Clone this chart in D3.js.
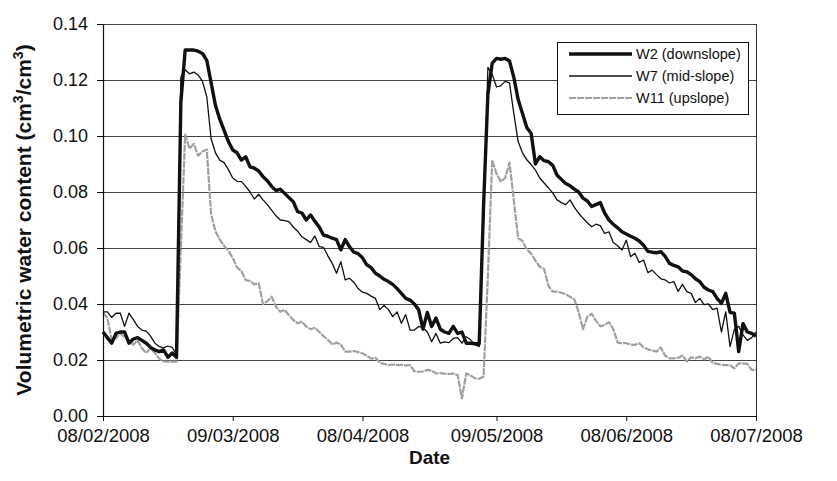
<!DOCTYPE html>
<html>
<head>
<meta charset="utf-8">
<script src="https://cdn.jsdelivr.net/npm/d3@7"></script>
<style>
  html, body { margin: 0; padding: 0; background: #fff; }
  svg { display: block; font-family: "Liberation Sans", Arial, Helvetica, sans-serif; }
</style>
</head>
<body>
<div id="chart"></div>
<script>
// daily readings, first day 08/02/2008
const startDate = '08/02/2008';

const w2 = [
  0.030, 0.028, 0.026, 0.0295, 0.030, 0.030, 0.026, 0.0275, 0.028, 0.027,
  0.026, 0.0245, 0.0236, 0.023, 0.0236, 0.021, 0.0225, 0.021, 0.112, 0.1307,
  0.1307, 0.1307, 0.1303, 0.1295, 0.127, 0.119, 0.111, 0.106, 0.102, 0.098,
  0.095, 0.094, 0.0914, 0.0926, 0.089, 0.0885, 0.0875, 0.0855, 0.084, 0.082,
  0.0805, 0.081, 0.0795, 0.078, 0.0765, 0.073, 0.0725, 0.070, 0.0718, 0.0695,
  0.0675, 0.0646, 0.0642, 0.0635, 0.063, 0.0593, 0.063, 0.0605, 0.0585, 0.058,
  0.0565, 0.054, 0.053, 0.051, 0.050, 0.0488, 0.048, 0.047, 0.0455, 0.0438,
  0.042, 0.0414, 0.040, 0.0379, 0.031, 0.037, 0.032, 0.035, 0.031, 0.030,
  0.0295, 0.032, 0.0295, 0.030, 0.026, 0.026, 0.0258, 0.0258, 0.075, 0.115,
  0.126, 0.1277, 0.1274, 0.1277, 0.1268, 0.121, 0.113, 0.108, 0.103, 0.101,
  0.090, 0.0926, 0.0912, 0.0908, 0.0895, 0.086, 0.0845, 0.083, 0.0822, 0.081,
  0.080, 0.0778, 0.0768, 0.0748, 0.0755, 0.0762, 0.0725, 0.070, 0.0685, 0.0672,
  0.0658, 0.065, 0.0642, 0.0635, 0.0625, 0.061, 0.0588, 0.0585, 0.0583, 0.0587,
  0.057, 0.0545, 0.0538, 0.0533, 0.0518, 0.0515, 0.0505, 0.049, 0.048, 0.046,
  0.045, 0.0444, 0.042, 0.0402, 0.0438, 0.037, 0.0367, 0.023, 0.033, 0.030,
  0.0295, 0.0285
];

const w7 = [
  0.0372, 0.0372, 0.0352, 0.0367, 0.0367, 0.032, 0.0367, 0.0345, 0.032, 0.0307,
  0.0303, 0.0285, 0.026, 0.0248, 0.0243, 0.025, 0.0245, 0.022, 0.121, 0.1236,
  0.1222, 0.1228, 0.1218, 0.1195, 0.114, 0.099, 0.094, 0.0914, 0.0905, 0.088,
  0.085, 0.0838, 0.0837, 0.082, 0.080, 0.0775, 0.0792, 0.0772, 0.0755, 0.0735,
  0.0715, 0.070, 0.0698, 0.0694, 0.0675, 0.066, 0.064, 0.063, 0.062, 0.0643,
  0.0605, 0.0602, 0.0572, 0.0545, 0.051, 0.0551, 0.0486, 0.0492, 0.0478, 0.0455,
  0.0442, 0.0438, 0.0428, 0.042, 0.038, 0.0395, 0.038, 0.0355, 0.0372, 0.0331,
  0.0362, 0.0307, 0.0307, 0.032, 0.0315, 0.030, 0.0265, 0.0295, 0.026, 0.0265,
  0.0262, 0.0277, 0.028, 0.026, 0.0283, 0.0272, 0.0255, 0.0248, 0.070, 0.1245,
  0.122, 0.1175, 0.118, 0.1195, 0.119, 0.108, 0.098, 0.094, 0.0915, 0.0898,
  0.0878, 0.085, 0.0832, 0.0815, 0.0797, 0.0772, 0.0762, 0.0755, 0.0772, 0.0745,
  0.0724, 0.0706, 0.069, 0.0676, 0.0685, 0.068, 0.0652, 0.0658, 0.062, 0.0608,
  0.0593, 0.0628, 0.0569, 0.0581, 0.0548, 0.0557, 0.0512, 0.0521, 0.0505, 0.049,
  0.0486, 0.0475, 0.048, 0.0445, 0.047, 0.0444, 0.0438, 0.0405, 0.042, 0.0398,
  0.040, 0.038, 0.0385, 0.030, 0.0372, 0.0248, 0.031, 0.032, 0.029, 0.027,
  0.028, 0.030
];

const w11 = [
  0.037, 0.035, 0.027, 0.0278, 0.0295, 0.028, 0.027, 0.0255, 0.027, 0.0242,
  0.0225, 0.0242, 0.0225, 0.0205, 0.0195, 0.0194, 0.0194, 0.0194, 0.060, 0.1005,
  0.0955, 0.0972, 0.093, 0.0945, 0.0952, 0.072, 0.066, 0.063, 0.0608, 0.059,
  0.0565, 0.053, 0.0518, 0.0485, 0.0482, 0.047, 0.0474, 0.040, 0.041, 0.0426,
  0.039, 0.0372, 0.0379, 0.036, 0.0343, 0.0331, 0.0337, 0.032, 0.031, 0.0315,
  0.030, 0.0285, 0.0272, 0.0256, 0.0262, 0.0255, 0.023, 0.023, 0.0232, 0.0228,
  0.0224, 0.0215, 0.0205, 0.0208, 0.019, 0.0186, 0.0182, 0.0184, 0.0182, 0.0183,
  0.0181, 0.0182, 0.016, 0.0158, 0.0159, 0.0165, 0.0162, 0.0152, 0.0153, 0.0151,
  0.015, 0.0152, 0.0146, 0.0063, 0.0152, 0.0145, 0.0135, 0.0133, 0.014, 0.050,
  0.0914, 0.0865, 0.0837, 0.085, 0.0905, 0.077, 0.0635, 0.0625, 0.0595, 0.058,
  0.0555, 0.0533, 0.0525, 0.0465, 0.0444, 0.0444, 0.044, 0.0435, 0.0426, 0.0416,
  0.037, 0.031, 0.0355, 0.0365, 0.034, 0.032, 0.0325, 0.0335, 0.031, 0.0262,
  0.026, 0.026, 0.0255, 0.0254, 0.026, 0.0245, 0.0238, 0.0234, 0.023, 0.0245,
  0.0215, 0.0206, 0.0206, 0.0208, 0.0216, 0.0195, 0.021, 0.0206, 0.0212, 0.0202,
  0.0212, 0.019, 0.0186, 0.0183, 0.0182, 0.0182, 0.017, 0.0188, 0.0188, 0.0186,
  0.0165, 0.0165
];

const xTickLabels = ['08/02/2008', '09/03/2008', '08/04/2008', '09/05/2008', '08/06/2008', '08/07/2008'];
const yTicks = [0, 0.02, 0.04, 0.06, 0.08, 0.10, 0.12, 0.14];
const seriesNames = ['W2 (downslope)', 'W7 (mid-slope)', 'W11 (upslope)'];

const width = 837, height = 481;
const margin = {top: 24, right: 81, bottom: 65, left: 103};

const parse = d3.utcParse('%d/%m/%Y');
const fmt = d3.utcFormat('%d/%m/%Y');
const t0 = parse(startDate);
const tickDates = xTickLabels.map(parse);

const x = d3.scaleUtc()
  .domain([tickDates[0], tickDates[tickDates.length - 1]])
  .range([margin.left, width - margin.right]);
const y = d3.scaleLinear()
  .domain([0, 0.14])
  .range([height - margin.bottom, margin.top]);

const svg = d3.select('#chart').append('svg')
  .attr('width', width)
  .attr('height', height);

// gridlines
svg.append('g')
  .selectAll('line')
  .data(yTicks.filter(d => d > 0))
  .join('line')
    .attr('x1', x.range()[0])
    .attr('x2', x.range()[1])
    .attr('y1', d => Math.round(y(d)) + 0.5)
    .attr('y2', d => Math.round(y(d)) + 0.5)
    .attr('stroke', '#444')
    .attr('stroke-width', 1);

// plot frame (right side)
svg.append('line')
  .attr('x1', x.range()[1] + 0.5).attr('x2', x.range()[1] + 0.5)
  .attr('y1', y(0.14)).attr('y2', y(0))
  .attr('stroke', '#333');

const series = [
  {name: seriesNames[2], values: w11, color: '#a0a0a0', width: 2.2, dash: '7,1'},
  {name: seriesNames[1], values: w7, color: '#111', width: 1.3, dash: null},
  {name: seriesNames[0], values: w2, color: '#111', width: 3.4, dash: null}
];

const line = d3.line()
  .x((d, i) => x(d3.utcDay.offset(t0, i)))
  .y(d => y(d));

svg.append('g')
  .selectAll('path')
  .data(series)
  .join('path')
    .attr('d', d => line(d.values))
    .attr('fill', 'none')
    .attr('stroke', d => d.color)
    .attr('stroke-width', d => d.width)
    .attr('stroke-dasharray', d => d.dash)
    .attr('stroke-linejoin', 'round');

// axes
const yAxis = svg.append('g')
  .attr('transform', `translate(${x.range()[0]},0)`)
  .call(d3.axisLeft(y).tickValues(yTicks).tickFormat(d3.format('.2f')).tickSize(6).tickSizeOuter(0));
const xAxis = svg.append('g')
  .attr('transform', `translate(0,${y(0)})`)
  .call(d3.axisBottom(x).tickValues(tickDates).tickFormat(fmt).tickSize(5).tickSizeOuter(0));

[yAxis, xAxis].forEach(a => {
  a.select('.domain').attr('stroke', '#111').attr('stroke-width', 1.2);
  a.selectAll('.tick line').attr('stroke', '#111');
  a.selectAll('.tick text')
    .attr('fill', '#111')
    .style('font-family', '"Liberation Sans", Arial, sans-serif');
});
yAxis.selectAll('.tick text').attr('x', -15).attr('dy', '0.32em').style('font-size', '18px');
xAxis.selectAll('.tick text').attr('y', 13).attr('dy', '0.71em').style('font-size', '18.5px');

// axis titles
svg.append('text')
  .attr('x', (x.range()[0] + x.range()[1]) / 2)
  .attr('y', 464)
  .attr('text-anchor', 'middle')
  .attr('font-weight', 'bold')
  .attr('font-size', 19)
  .attr('fill', '#111')
  .text('Date');

const yt = svg.append('text')
  .attr('transform', `translate(31,${(y(0) + y(0.14)) / 2}) rotate(-90)`)
  .attr('text-anchor', 'middle')
  .attr('font-weight', 'bold')
  .attr('font-size', 21)
  .attr('fill', '#111');
yt.append('tspan').text('Volumetric water content (cm');
yt.append('tspan').attr('dy', -8).attr('font-size', 14).text('3');
yt.append('tspan').attr('dy', 8).text('/cm');
yt.append('tspan').attr('dy', -8).attr('font-size', 14).text('3');
yt.append('tspan').attr('dy', 8).text(')');

// legend
const legend = svg.append('g').attr('transform', 'translate(557,42)');
legend.append('rect')
  .attr('x', 0.5).attr('y', 0.5)
  .attr('width', 191).attr('height', 72)
  .attr('fill', '#fff')
  .attr('stroke', '#111');

const legendItems = legend.selectAll('g.item')
  .data(series.slice().reverse())
  .join('g')
    .attr('class', 'item')
    .attr('transform', (d, i) => `translate(0,${12 + i * 22})`);
legendItems.append('line')
  .attr('x1', 12).attr('x2', 75)
  .attr('stroke', d => d.color)
  .attr('stroke-width', d => d.width)
  .attr('stroke-dasharray', d => d.dash);
legendItems.append('text')
  .attr('x', 79)
  .attr('dy', '0.35em')
  .attr('font-size', 14.5)
  .attr('fill', '#111')
  .text(d => d.name);
</script>
</body>
</html>
